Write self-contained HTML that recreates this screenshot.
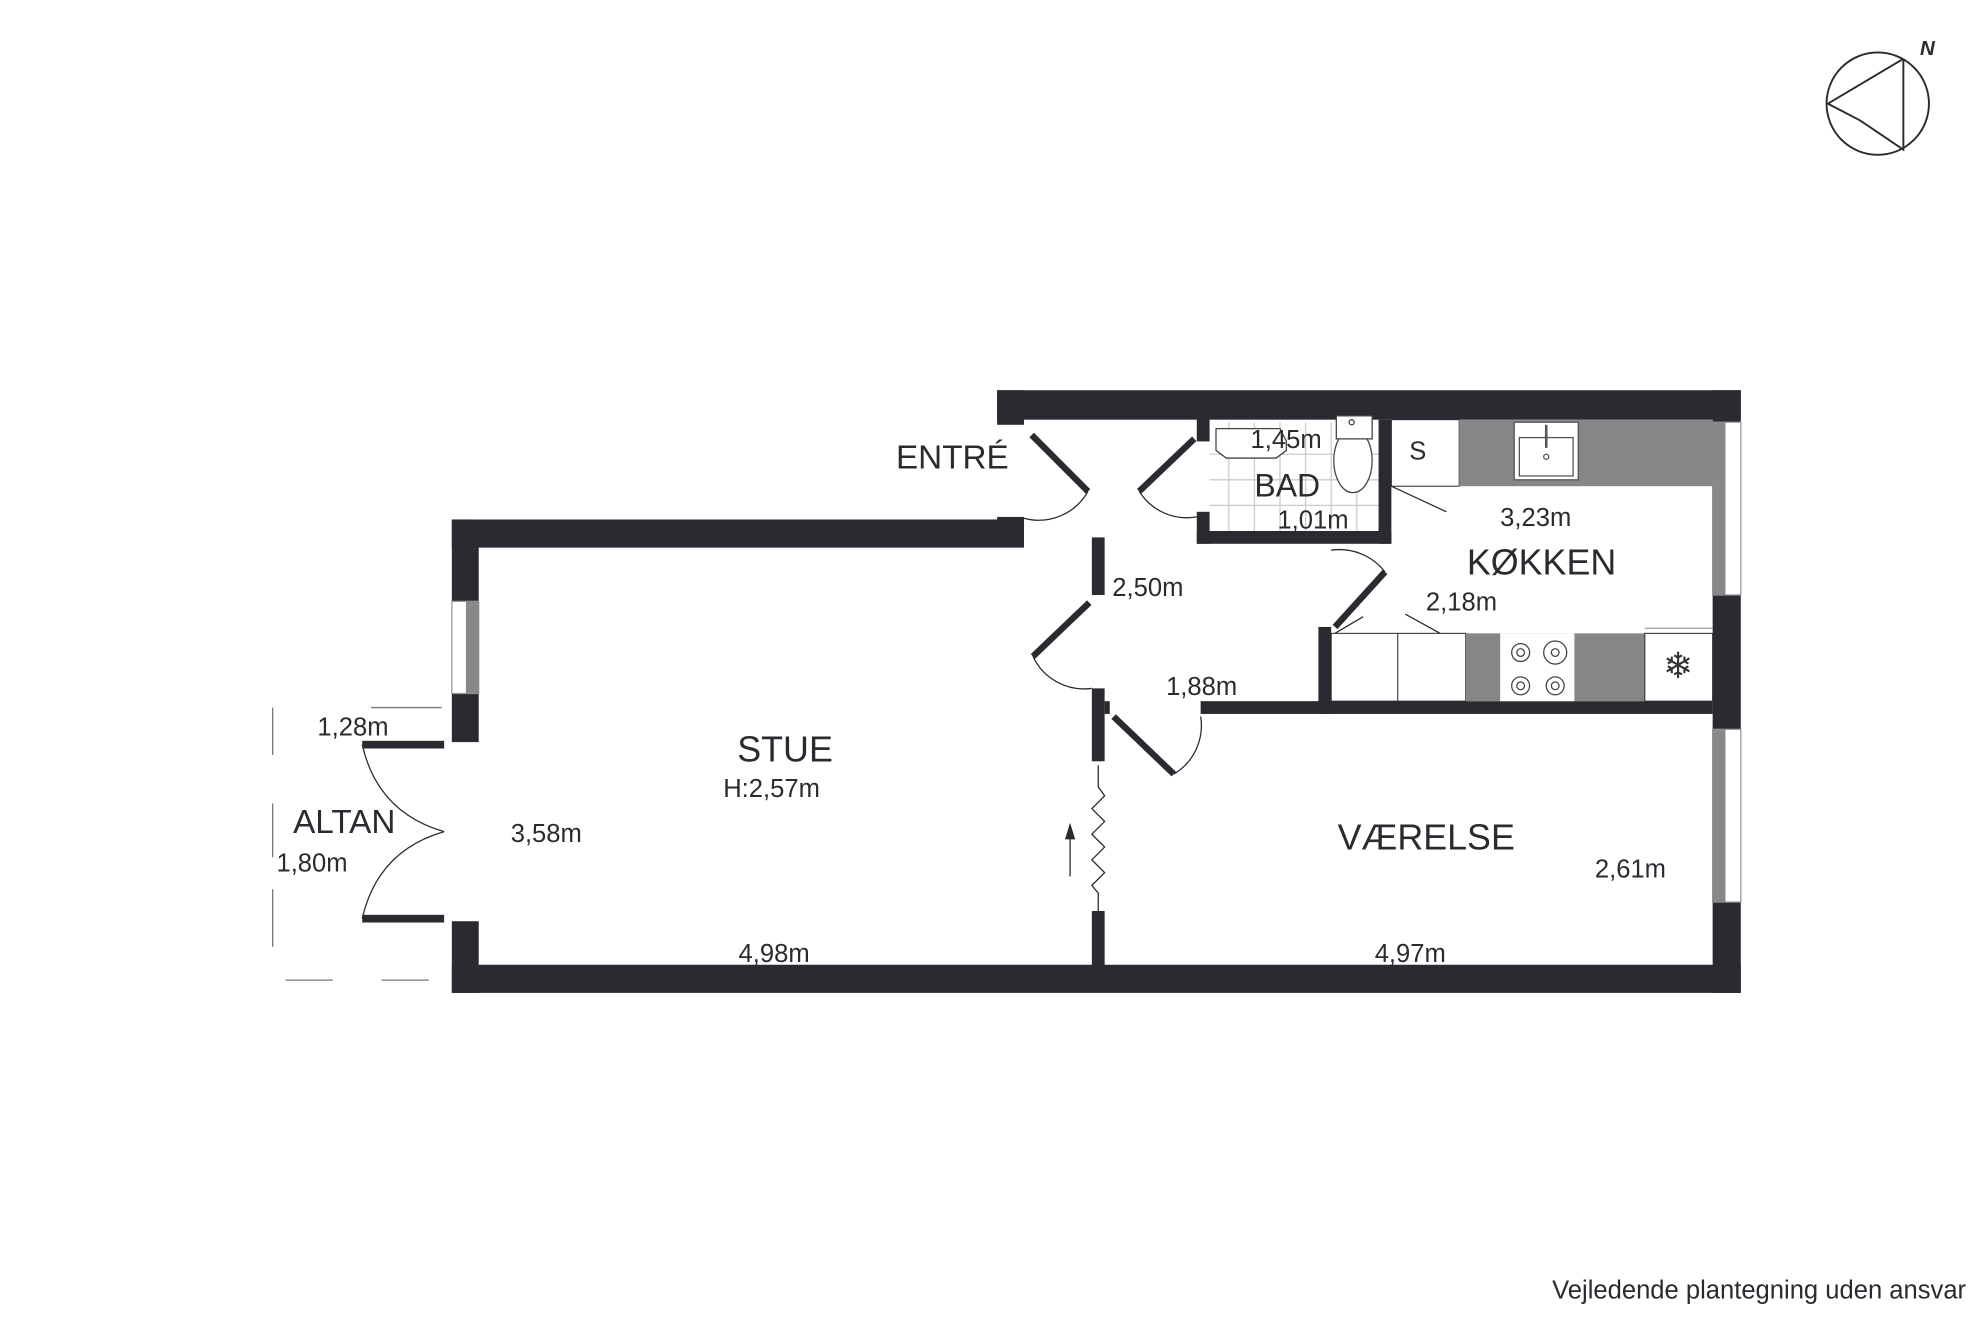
<!DOCTYPE html>
<html><head><meta charset="utf-8"><style>
html,body{margin:0;padding:0;background:#fff;}
svg{display:block;}
text{font-family:"Liberation Sans",sans-serif;fill:#2a2b30;}
</style></head><body>
<svg width="1984" height="1323" viewBox="0 0 1550 1034" preserveAspectRatio="none" xmlns="http://www.w3.org/2000/svg">
<rect width="1550" height="1034" fill="#fff"/>
<g stroke="#ccc" stroke-width="1">
<line x1="945" y1="355" x2="1077" y2="355"/><line x1="945" y1="375" x2="1077" y2="375"/><line x1="945" y1="395" x2="1077" y2="395"/>
<line x1="960" y1="330" x2="960" y2="415"/><line x1="980" y1="330" x2="980" y2="415"/><line x1="1000" y1="330" x2="1000" y2="415"/><line x1="1020" y1="330" x2="1020" y2="415"/><line x1="1040" y1="330" x2="1040" y2="415"/><line x1="1060" y1="330" x2="1060" y2="415"/>
</g>
<g fill="#2a2b30">
<rect x="779" y="305" width="581" height="23"/>
<rect x="1338" y="305" width="22" height="25"/>
<rect x="779" y="305" width="21" height="27"/>
<rect x="779" y="404" width="21" height="14"/>
<rect x="353" y="406" width="447" height="22"/>
<rect x="353" y="406" width="21" height="64"/>
<rect x="353" y="542" width="21" height="38"/>
<rect x="353" y="720" width="21" height="56"/>
<rect x="353" y="754" width="1007" height="22"/>
<rect x="1338" y="465" width="22" height="105"/>
<rect x="1338" y="705" width="22" height="71"/>
<rect x="853" y="420" width="10" height="45"/>
<rect x="853" y="538" width="10" height="57"/>
<rect x="863" y="548" width="4" height="10"/>
<rect x="853" y="712" width="10" height="43"/>
<rect x="935" y="325" width="10" height="20"/>
<rect x="935" y="400" width="10" height="25"/>
<rect x="935" y="415" width="152" height="10"/>
<rect x="1077" y="328" width="10" height="97"/>
<rect x="1030" y="490" width="10" height="68"/>
<rect x="938" y="548" width="400" height="10"/>
<rect x="283" y="579" width="64" height="6"/>
<rect x="283" y="715" width="64" height="6"/>
</g>
<rect x="353" y="470" width="21" height="72" fill="#fff" stroke="#999" stroke-width="1"/>
<rect x="364" y="470" width="10" height="72" fill="#888"/>
<rect x="1338" y="330" width="22" height="135" fill="#fff" stroke="#999" stroke-width="1"/>
<rect x="1338" y="330" width="10" height="135" fill="#888"/>
<rect x="1338" y="570" width="22" height="135" fill="#fff" stroke="#999" stroke-width="1"/>
<rect x="1338" y="570" width="10" height="135" fill="#888"/>
<rect x="1087" y="328" width="53" height="52" fill="#fff" stroke="#2a2b30" stroke-width="0.8"/>
<rect x="1140" y="328" width="198" height="52" fill="#868686"/>
<rect x="1183" y="330" width="50" height="45" fill="#fff" stroke="#555"/>
<rect x="1187" y="342" width="42" height="30" fill="#fff" stroke="#555"/>
<line x1="1208" y1="332" x2="1208" y2="350" stroke="#555" stroke-width="2"/>
<circle cx="1208" cy="357" r="2" fill="none" stroke="#555"/>
<text x="1101" y="359" font-size="20">S</text>
<line x1="1087" y1="380" x2="1130" y2="400" stroke="#2a2b30"/>
<rect x="1040" y="495" width="105" height="53" fill="#fff" stroke="#2a2b30" stroke-width="0.8"/>
<line x1="1092" y1="495" x2="1092" y2="548" stroke="#2a2b30" stroke-width="0.8"/>
<rect x="1145" y="495" width="140" height="53" fill="#868686"/>
<rect x="1172" y="495" width="58" height="53" fill="#fff"/>
<g fill="none" stroke="#444">
<circle cx="1188" cy="510" r="7"/><circle cx="1188" cy="510" r="3"/>
<circle cx="1215" cy="510" r="9"/><circle cx="1215" cy="510" r="3"/>
<circle cx="1188" cy="536" r="7"/><circle cx="1188" cy="536" r="3"/>
<circle cx="1215" cy="536" r="7"/><circle cx="1215" cy="536" r="3"/>
</g>
<rect x="1285" y="495" width="53" height="53" fill="#fff" stroke="#2a2b30" stroke-width="0.8"/>
<line x1="1285" y1="491" x2="1338" y2="491" stroke="#999"/>
<text x="1311" y="530" font-size="28" text-anchor="middle" style="fill:#333">❄</text>
<line x1="1043" y1="495" x2="1065" y2="482" stroke="#2a2b30"/>
<line x1="1098" y1="480" x2="1125" y2="495" stroke="#2a2b30"/>
<path d="M950 335 L1000 335 L1005 345 L1005 352 L997 358 L958 358 L950 352 Z" fill="#fff" stroke="#444"/>
<ellipse cx="1057" cy="360" rx="15" ry="25" fill="#fff" stroke="#444"/>
<rect x="1044" y="325" width="28" height="18" fill="#fff" stroke="#444"/>
<circle cx="1056" cy="330" r="2" fill="none" stroke="#444"/>
<g stroke="#2a2b30" stroke-width="5" fill="none">
<line x1="806" y1="340" x2="850" y2="384"/>
<line x1="933" y1="343" x2="890" y2="384"/>
<line x1="851" y1="471" x2="807" y2="513"/>
<line x1="870" y1="560" x2="917" y2="605"/>
<line x1="1082" y1="447" x2="1043" y2="490"/>
</g>
<g stroke="#2a2b30" stroke-width="1" fill="none">
<path d="M850 384 A44 44 0 0 1 800 405"/>
<path d="M890 384 A44 44 0 0 0 935 404"/>
<path d="M807 513 A44 44 0 0 0 853 538"/>
<path d="M917 605 A44 44 0 0 0 938 560"/>
<path d="M1082 447 A45 45 0 0 0 1040 430"/>
<path d="M283 582 Q295 635 347 650"/>
<path d="M283 718 Q295 665 347 650"/>
<polyline points="858,598 858,615 863,622 853,632 863,642 853,652 863,662 853,672 863,682 853,692 858,698 858,712"/>
<line x1="836" y1="685" x2="836" y2="650"/>
</g>
<path d="M832 656 L836 643 L840 656 Z" fill="#2a2b30"/>
<g stroke="#777" stroke-width="1">
<line x1="213" y1="553" x2="213" y2="590"/><line x1="213" y1="628" x2="213" y2="670"/><line x1="213" y1="695" x2="213" y2="740"/>
<line x1="223" y1="766" x2="260" y2="766"/><line x1="298" y1="766" x2="335" y2="766"/>
<line x1="290" y1="553" x2="345" y2="553"/>
</g>
<text x="700" y="366" font-size="26">ENTRÉ</text>
<text x="980" y="388" font-size="25">BAD</text>
<text x="977" y="350" font-size="20">1,45m</text>
<text x="998" y="413" font-size="20">1,01m</text>
<text x="1172" y="411" font-size="20">3,23m</text>
<text x="1146" y="449" font-size="28">KØKKEN</text>
<text x="1114" y="477" font-size="20">2,18m</text>
<text x="869" y="466" font-size="20">2,50m</text>
<text x="911" y="543" font-size="20">1,88m</text>
<text x="576" y="595" font-size="28">STUE</text>
<text x="565" y="623" font-size="20">H:2,57m</text>
<text x="399" y="658" font-size="20">3,58m</text>
<text x="577" y="752" font-size="20">4,98m</text>
<text x="1045" y="664" font-size="28">VÆRELSE</text>
<text x="1246" y="686" font-size="20">2,61m</text>
<text x="1074" y="752" font-size="20">4,97m</text>
<text x="248" y="575" font-size="20">1,28m</text>
<text x="229" y="651" font-size="26">ALTAN</text>
<text x="216" y="681" font-size="20">1,80m</text>
<text x="1536" y="1015" font-size="20" text-anchor="end">Vejledende plantegning uden ansvar</text>
<circle cx="1467" cy="81" r="40" fill="none" stroke="#2a2b30" stroke-width="1.5"/>
<polyline points="1487,46 1428,81 1453,94 1487,117 1487,46" fill="none" stroke="#2a2b30" stroke-width="1.5"/>
<text x="1500" y="43" font-size="16" font-weight="bold" font-style="italic">N</text>
</svg>
</body></html>
